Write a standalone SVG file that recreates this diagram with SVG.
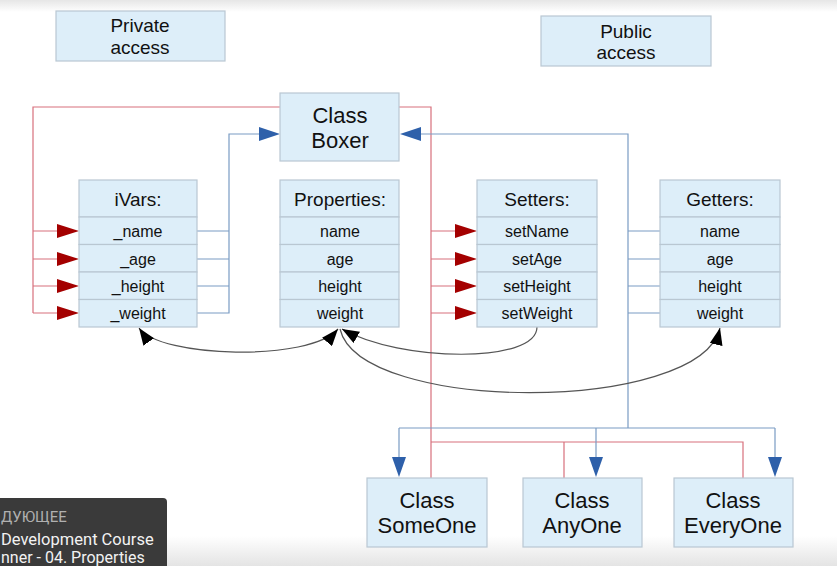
<svg xmlns="http://www.w3.org/2000/svg" width="837" height="566" viewBox="0 0 837 566">
<defs>
<linearGradient id="topg" x1="0" y1="0" x2="0" y2="1"><stop offset="0" stop-color="#e6e6e6"/><stop offset="1" stop-color="#ffffff"/></linearGradient>
<linearGradient id="botg" x1="0" y1="0" x2="0" y2="1"><stop offset="0" stop-color="#ffffff"/><stop offset="1" stop-color="#e4e4e4"/></linearGradient>
<marker id="blk" viewBox="0 0 17 13" refX="17" refY="6.5" markerWidth="17" markerHeight="13" markerUnits="userSpaceOnUse" orient="auto-start-reverse"><path d="M0,0 L17,6.5 L0,13 Z" fill="#000"/></marker>
</defs>
<style>
.box{fill:#ddeef9;stroke:#b9c7d2;stroke-width:1.2}
.t{font-family:"Liberation Sans",Arial,sans-serif;fill:#111;text-anchor:middle}
.h{font-size:19px}
.r{font-size:16px}
.big{font-size:22px}
.acc{font-size:19px}
.red{stroke:#d8707c;stroke-width:1.2;fill:none}
.blue{stroke:#7a9cc4;stroke-width:1.2;fill:none}
.ra{fill:#a40000}
.ba{fill:#2e60aa}
.curve{stroke:#555;stroke-width:1.2;fill:none}
.ov{font-family:Roboto,"Noto Sans",sans-serif}
</style>
<rect width="837" height="566" fill="#fff"/>
<rect width="837" height="12" fill="url(#topg)"/>
<rect y="536" width="837" height="30" fill="url(#botg)"/>

<g id="connectors">
<path class="red" d="M280,107 H33 V313 M33,231 H57 M33,259 H57 M33,286 H57 M33,313 H57"/>
<polygon class="ra" points="79,231 57,224 57,238"/>
<polygon class="ra" points="79,259 57,252 57,266"/>
<polygon class="ra" points="79,286 57,279 57,293"/>
<polygon class="ra" points="79,313 57,306 57,320"/>
<path class="red" d="M399,107 H431 V478 M431,231 H455 M431,259 H455 M431,286 H455 M431,313 H455 M431,442 H743 V478 M564,442 V478"/>
<polygon class="ra" points="477,231 455,224 455,238"/>
<polygon class="ra" points="477,259 455,252 455,266"/>
<polygon class="ra" points="477,286 455,279 455,293"/>
<polygon class="ra" points="477,313 455,306 455,320"/>
<path class="blue" d="M197,231 H229 M197,259 H229 M197,286 H229 M197,313 H229 V134 H260"/>
<polygon class="ba" points="280,134 259,127 259,141"/>
<path class="blue" d="M420,134 H628 V428 M628,231 H660 M628,259 H660 M628,286 H660 M628,313 H660 M399,428 H775 M399,428 V458 M596,428 V458 M775,428 V458"/>
<polygon class="ba" points="400,134 421,127 421,141"/>
<polygon class="ba" points="392,457 406,457 399,477"/>
<polygon class="ba" points="589,457 603,457 596,477"/>
<polygon class="ba" points="768,457 782,457 775,477"/>
<path class="curve" d="M139,328 C160,358 310,362 338,329" marker-start="url(#blk)" marker-end="url(#blk)"/>
<path class="curve" d="M537,327 C537,364 400,362 342,329" marker-end="url(#blk)"/>
<path class="curve" d="M340,329 C360,414 700,414 720,328" marker-end="url(#blk)"/>
</g>

<g id="private-access"><rect class="box" x="56" y="11" width="169" height="50"/><text class="t acc" x="140" y="32">Private</text><text class="t acc" x="140" y="54">access</text></g>
<g id="public-access"><rect class="box" x="541" y="16" width="170" height="50"/><text class="t acc" x="626" y="38">Public</text><text class="t acc" x="626" y="59">access</text></g>

<g id="class-boxer"><rect class="box" x="280" y="93" width="119" height="68"/><text class="t big" x="340" y="123">Class</text><text class="t big" x="340" y="148">Boxer</text></g>

<g id="ivars">
<rect class="box" x="79" y="180" width="118" height="37"/><text class="t h" x="138" y="206">iVars:</text>
<rect class="box" x="79" y="217" width="118" height="27.5"/><text class="t r" x="138" y="237">_name</text>
<rect class="box" x="79" y="244.5" width="118" height="27.5"/><text class="t r" x="138" y="265">_age</text>
<rect class="box" x="79" y="272" width="118" height="27.5"/><text class="t r" x="138" y="292">_height</text>
<rect class="box" x="79" y="299.5" width="118" height="27.5"/><text class="t r" x="138" y="319">_weight</text>
</g>
<g id="properties">
<rect class="box" x="280" y="180" width="119" height="37"/><text class="t h" x="340" y="206">Properties:</text>
<rect class="box" x="280" y="217" width="119" height="27.5"/><text class="t r" x="340" y="237">name</text>
<rect class="box" x="280" y="244.5" width="119" height="27.5"/><text class="t r" x="340" y="265">age</text>
<rect class="box" x="280" y="272" width="119" height="27.5"/><text class="t r" x="340" y="292">height</text>
<rect class="box" x="280" y="299.5" width="119" height="27.5"/><text class="t r" x="340" y="319">weight</text>
</g>
<g id="setters">
<rect class="box" x="477" y="180" width="120" height="37"/><text class="t h" x="537" y="206">Setters:</text>
<rect class="box" x="477" y="217" width="120" height="27.5"/><text class="t r" x="537" y="237">setName</text>
<rect class="box" x="477" y="244.5" width="120" height="27.5"/><text class="t r" x="537" y="265">setAge</text>
<rect class="box" x="477" y="272" width="120" height="27.5"/><text class="t r" x="537" y="292">setHeight</text>
<rect class="box" x="477" y="299.5" width="120" height="27.5"/><text class="t r" x="537" y="319">setWeight</text>
</g>
<g id="getters">
<rect class="box" x="660" y="180" width="120" height="37"/><text class="t h" x="720" y="206">Getters:</text>
<rect class="box" x="660" y="217" width="120" height="27.5"/><text class="t r" x="720" y="237">name</text>
<rect class="box" x="660" y="244.5" width="120" height="27.5"/><text class="t r" x="720" y="265">age</text>
<rect class="box" x="660" y="272" width="120" height="27.5"/><text class="t r" x="720" y="292">height</text>
<rect class="box" x="660" y="299.5" width="120" height="27.5"/><text class="t r" x="720" y="319">weight</text>
</g>

<g id="class-someone"><rect class="box" x="367" y="478" width="120" height="69"/><text class="t big" x="427" y="508">Class</text><text class="t big" x="427" y="533">SomeOne</text></g>
<g id="class-anyone"><rect class="box" x="523" y="478" width="119" height="69"/><text class="t big" x="582" y="508">Class</text><text class="t big" x="582" y="533">AnyOne</text></g>
<g id="class-everyone"><rect class="box" x="674" y="478" width="119" height="69"/><text class="t big" x="733" y="508">Class</text><text class="t big" x="733" y="533">EveryOne</text></g>

<g id="overlay">
<path d="M0,498 H163 Q167,498 167,502 V566 H0 Z" fill="#3a3a3a"/>
<text class="ov" x="1" y="522" font-size="15" fill="#b0b0b0">ДУЮЩЕЕ</text>
<text class="ov" x="1" y="545" font-size="16.5" fill="#f2f2f2">Development Course</text>
<text class="ov" x="1" y="563" font-size="16" fill="#f2f2f2">nner - 04. Properties</text>
</g>
</svg>
